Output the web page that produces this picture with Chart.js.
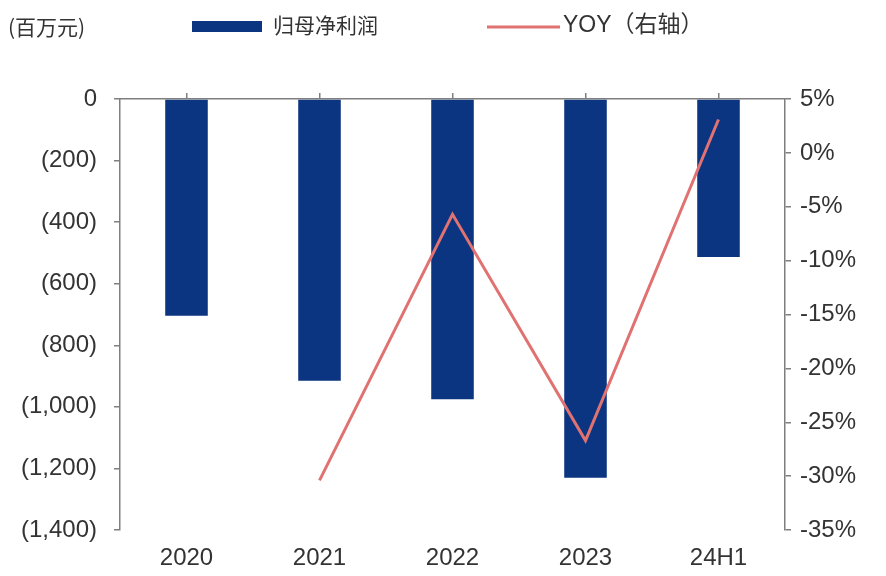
<!DOCTYPE html>
<html>
<head>
<meta charset="utf-8">
<script src="https://cdn.jsdelivr.net/npm/chart.js@4.4.0/dist/chart.umd.min.js"></script>
<style>
  html, body { margin: 0; padding: 0; background: #fff; }
  #wrap { width: 886px; height: 576px; }
</style>
</head>
<body>
<div id="wrap"><canvas id="profitChart" width="886" height="576"></canvas></div>
<script>
const categories = ["2020", "2021", "2022", "2023", "24H1"];
const netProfit = [-704, -915, -975, -1230, -513];
const yoy = [null, -30.4, -5.7, -26.7, 3.1];
const unitLabel = "(百万元)";
const barLabel = "归母净利润";
const lineLabel = "YOY（右轴）";

const barColor = "#0b3580";
const lineColor = "#e07272";
const axisColor = "#7f7f7f";
const textColor = "#333333";
const fontFamily = '"Liberation Sans", Arial, "Noto Sans CJK SC", sans-serif';

function fmtAmount(v) {
    if (v === 0) return "0";
    const s = Math.abs(v).toLocaleString("en-US");
    return v < 0 ? "(" + s + ")" : s;
}

// legend + unit text in the header
const headerPlugin = {
    id: "header",
    afterDraw(chart) {
        const c = chart.ctx;
        c.save();
        c.fillStyle = textColor;
        c.textBaseline = "middle";
        c.font = '21px "Noto Sans CJK SC", sans-serif';
        c.fillText(unitLabel, 8, 27);

        c.fillStyle = barColor;
        c.fillRect(192, 21, 70, 11);
        c.fillStyle = textColor;
        c.fillText(barLabel, 273, 25);

        c.strokeStyle = lineColor;
        c.lineWidth = 3;
        c.beginPath();
        c.moveTo(487, 27);
        c.lineTo(560, 27);
        c.stroke();
        c.font = '23px ' + fontFamily;
        c.fillText(lineLabel, 563, 26);
        c.restore();
    }
};

new Chart(document.getElementById("profitChart"), {
    data: {
        labels: categories,
        datasets: [
            {
                type: "line",
                label: lineLabel,
                data: yoy,
                yAxisID: "yRight",
                borderColor: lineColor,
                borderWidth: 3,
                pointRadius: 0,
                tension: 0,
                order: 0
            },
            {
                type: "bar",
                label: barLabel,
                data: netProfit,
                yAxisID: "yLeft",
                backgroundColor: barColor,
                categoryPercentage: 1,
                barPercentage: 0.32,
                order: 1
            }
        ]
    },
    options: {
        responsive: false,
        animation: false,
        layout: { padding: { top: 89, left: 0, right: 0, bottom: 0 } },
        plugins: {
            legend: { display: false },
            tooltip: { enabled: false }
        },
        scales: {
            x: {
                position: "bottom",
                offset: true,
                border: { display: false },
                grid: { display: false },
                ticks: { color: textColor, font: { family: fontFamily, size: 24 }, padding: 6 },
                afterFit(s) { s.height = 46; }
            },
            xTop: {
                type: "category",
                labels: categories,
                position: "top",
                offset: true,
                border: { display: true, color: axisColor, width: 1.5 },
                grid: { drawOnChartArea: false, drawTicks: true, tickLength: 6, color: axisColor, lineWidth: 1.5 },
                ticks: { display: false },
                afterFit(s) { s.height = 10; }
            },
            yLeft: {
                position: "left",
                min: -1400,
                max: 0,
                border: { display: true, color: axisColor, width: 1.5 },
                grid: { drawOnChartArea: false, tickLength: 6, color: axisColor, lineWidth: 1.5 },
                ticks: {
                    stepSize: 200,
                    color: textColor,
                    padding: 17,
                    font: { family: fontFamily, size: 24 },
                    callback: (v) => fmtAmount(v)
                },
                afterFit(s) { s.width = 120; }
            },
            yRight: {
                position: "right",
                min: -35,
                max: 5,
                border: { display: true, color: axisColor, width: 1.5 },
                grid: { drawOnChartArea: false, tickLength: 6, color: axisColor, lineWidth: 1.5 },
                ticks: {
                    stepSize: 5,
                    color: textColor,
                    padding: 9,
                    font: { family: fontFamily, size: 24 },
                    callback: (v) => v + "%"
                },
                afterFit(s) { s.width = 101; }
            }
        }
    },
    plugins: [headerPlugin]
});
</script>
</body>
</html>
